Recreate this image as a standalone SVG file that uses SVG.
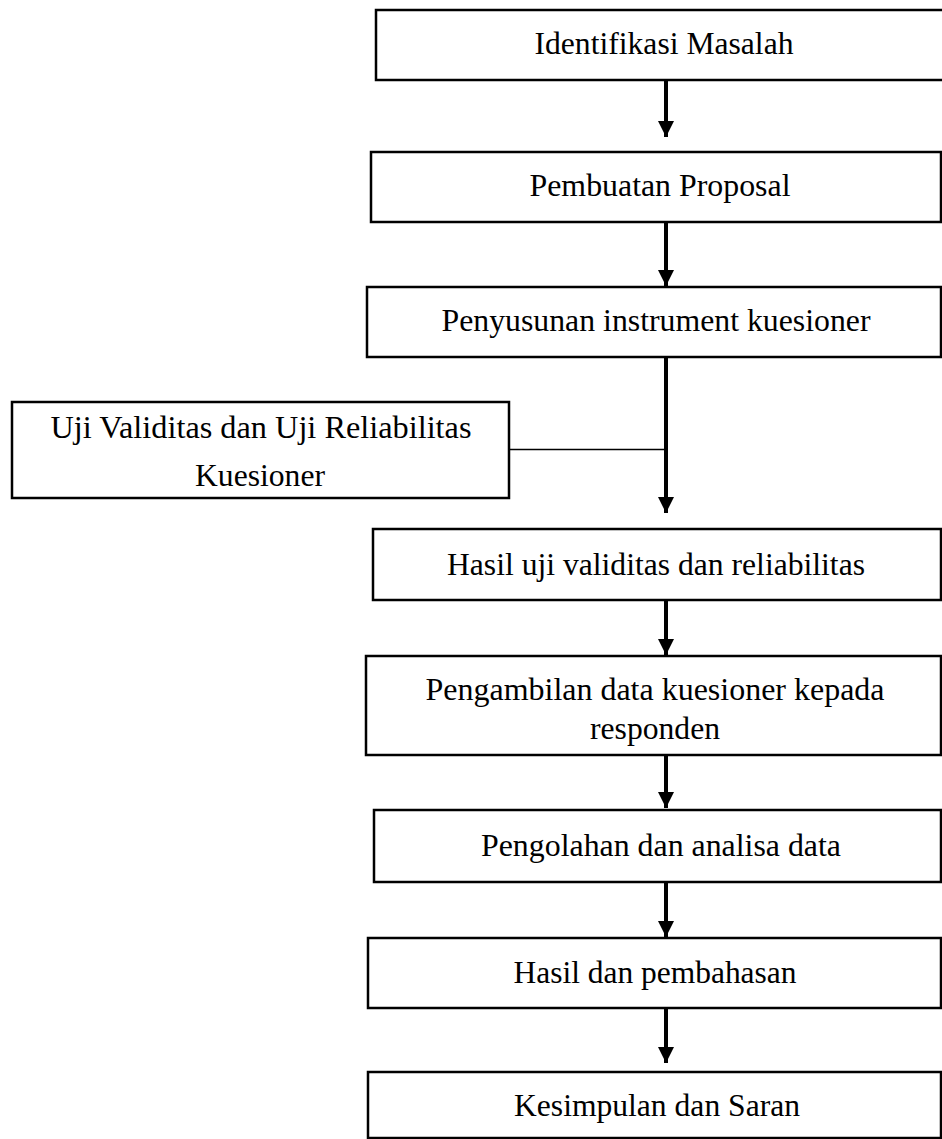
<svg xmlns="http://www.w3.org/2000/svg" width="942" height="1139" viewBox="0 0 942 1139">
<style>
.box{fill:#fff;stroke:#000;stroke-width:2.5}
.t{font-family:"Liberation Serif","Times New Roman",serif;font-size:32px;fill:#000;text-anchor:middle}
.arr{stroke:#000;stroke-width:4;fill:none;marker-end:url(#ah)}
.thin{stroke:#000;stroke-width:1.5;fill:none}
</style>
<defs>
<marker id="ah" markerUnits="userSpaceOnUse" markerWidth="16" markerHeight="16" refX="16" refY="8" orient="auto" viewBox="0 0 16 16">
<path d="M0,0 L16,8 L0,16 z" fill="#000"/>
</marker>
</defs>
<rect width="942" height="1139" fill="#fff"/>
<g id="connectors">
<line class="arr" x1="666" y1="80" x2="666" y2="137"/>
<line class="arr" x1="666" y1="222" x2="666" y2="286"/>
<line class="arr" x1="666" y1="357" x2="666" y2="513"/>
<line class="thin" x1="509" y1="449.5" x2="666" y2="449.5"/>
<line class="arr" x1="666" y1="600" x2="666" y2="655"/>
<line class="arr" x1="666" y1="755" x2="666" y2="808"/>
<line class="arr" x1="666" y1="882" x2="666" y2="937"/>
<line class="arr" x1="666" y1="1008" x2="666" y2="1063"/>
</g>
<g id="n1"><rect class="box" x="376" y="10" width="570" height="70"/><text class="t" x="664" y="54" textLength="259" lengthAdjust="spacingAndGlyphs">Identifikasi Masalah</text></g>
<g id="n2"><rect class="box" x="371" y="152" width="570" height="70"/><text class="t" x="660" y="196" textLength="261" lengthAdjust="spacingAndGlyphs">Pembuatan Proposal</text></g>
<g id="n3"><rect class="box" x="367" y="287" width="574" height="70"/><text class="t" x="656" y="331" textLength="429" lengthAdjust="spacingAndGlyphs">Penyusunan instrument kuesioner</text></g>
<g id="n_uji"><rect class="box" x="12" y="402" width="497" height="96"/><text class="t" x="261" y="438" textLength="421" lengthAdjust="spacingAndGlyphs">Uji Validitas dan Uji Reliabilitas</text><text class="t" x="260" y="486" textLength="130" lengthAdjust="spacingAndGlyphs">Kuesioner</text></g>
<g id="n4"><rect class="box" x="373" y="529" width="568" height="71"/><text class="t" x="656" y="575" textLength="418" lengthAdjust="spacingAndGlyphs">Hasil uji validitas dan reliabilitas</text></g>
<g id="n5"><rect class="box" x="366" y="656" width="575" height="99"/><text class="t" x="655" y="700" textLength="459" lengthAdjust="spacingAndGlyphs">Pengambilan data kuesioner kepada</text><text class="t" x="655" y="739" textLength="130" lengthAdjust="spacingAndGlyphs">responden</text></g>
<g id="n6"><rect class="box" x="374" y="810" width="567" height="72"/><text class="t" x="661" y="856" textLength="360" lengthAdjust="spacingAndGlyphs">Pengolahan dan analisa data</text></g>
<g id="n7"><rect class="box" x="368" y="938" width="573" height="70"/><text class="t" x="655" y="983" textLength="283" lengthAdjust="spacingAndGlyphs">Hasil dan pembahasan</text></g>
<g id="n8"><rect class="box" x="368" y="1072" width="573" height="66"/><text class="t" x="657" y="1116" textLength="286" lengthAdjust="spacingAndGlyphs">Kesimpulan dan Saran</text></g>
</svg>
